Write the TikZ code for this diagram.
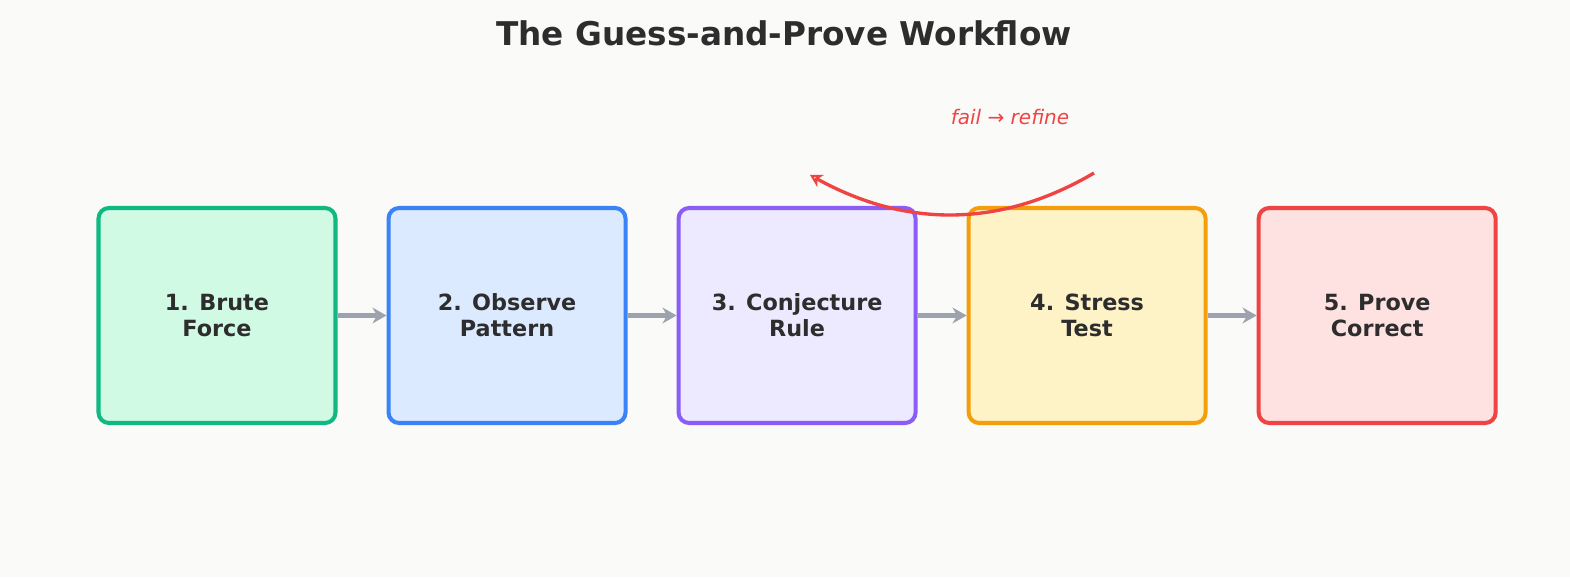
\documentclass[tikz,border=0pt]{standalone}
\usepackage{fontspec}
\setmainfont{DejaVu Sans}
\usetikzlibrary{positioning,arrows.meta}
\definecolor{bgc}{HTML}{FAFAF8}
\definecolor{txt}{HTML}{2D2D2D}
\definecolor{gry}{HTML}{9CA3AF}
\definecolor{redc}{HTML}{EF4444}
\definecolor{cA}{HTML}{10B981}\definecolor{fA}{HTML}{D1FAE5}
\definecolor{cB}{HTML}{3B82F6}\definecolor{fB}{HTML}{DBEAFE}
\definecolor{cC}{HTML}{8B5CF6}\definecolor{fC}{HTML}{EDE9FE}
\definecolor{cD}{HTML}{F59E0B}\definecolor{fD}{HTML}{FEF3C7}
\definecolor{cE}{HTML}{EF4444}\definecolor{fE}{HTML}{FEE2E2}
\begin{document}
\begin{tikzpicture}[
		stage/.style={
			draw,
			rounded corners=6pt,
			line width=2.3pt,
			minimum width=4.74cm,
			minimum height=4.3cm,
			align=center,
			text=txt,
			font=\bfseries\fontsize{12.7}{14.8}\selectfont
		},
		flow/.style={
			->,
			draw=gry,
			line width=2.6pt
		},
		>={Stealth[length=8pt,width=9pt]}
		]
		\fill[bgc] (0,0) rectangle (31.4,11.54);
		\useasboundingbox (0,0) rectangle (31.4,11.54);
		
		\node[font=\bfseries\fontsize{18.6}{22}\selectfont,text=txt] (title) at (15.68,10.88) {The Guess-and-Prove Workflow};
		
		\node[stage,draw=cA,fill=fA] (brute) at (4.34,5.23) {1. Brute\\Force};
		\node[stage,draw=cB,fill=fB,right=0.98cm of brute] (observe) {2. Observe\\Pattern};
		\node[stage,draw=cC,fill=fC,right=0.98cm of observe] (conj) {3. Conjecture\\Rule};
		\node[stage,draw=cD,fill=fD,right=0.98cm of conj] (stress) {4. Stress\\Test};
		\node[stage,draw=cE,fill=fE,right=0.98cm of stress] (prove) {5. Prove\\Correct};
		
		\foreach \a/\b in {brute/observe,observe/conj,conj/stress,stress/prove}
		\draw[flow] (\a) -- (\b);
		
		% feedback loop
		\coordinate (loopS) at (21.88,8.08);
		\coordinate (loopE) at (16.2,8.04);
		\draw[->,redc,line width=1.9pt,>={Stealth[length=7pt,width=8pt,open]}] (loopS) .. controls (20.03,6.99) and (18.13,6.97) .. (loopE);
		\node[text=redc,font=\itshape\fontsize{11.4}{13}\selectfont] (fail) at (20.2,9.2) {fail → refine};
		
		\end{tikzpicture}
\end{document}
